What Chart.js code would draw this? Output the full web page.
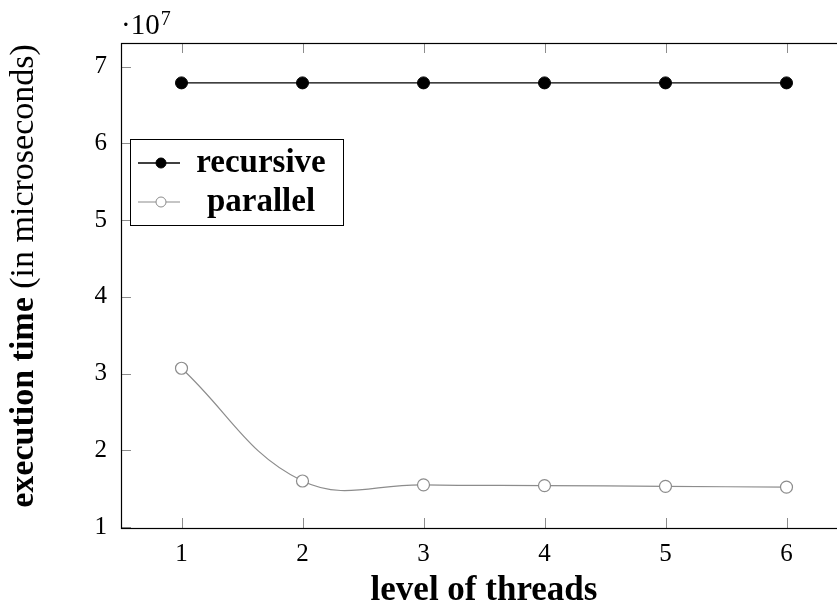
<!DOCTYPE html>
<html>
<head>
<meta charset="utf-8">
<script src="https://cdn.jsdelivr.net/npm/chart.js@4/dist/chart.umd.min.js"></script>
<style>
  html, body { margin: 0; padding: 0; background: #fff; overflow: hidden; }
  #chart { position: absolute; left: 0; top: 0; }
</style>
</head>
<body>
<canvas id="chart" width="847" height="608"></canvas>
<script>
  "use strict";

  // data, in units of 10^7 microseconds
  const threadLevels = [1, 2, 3, 4, 5, 6];
  const recursiveTimes = [6.79, 6.79, 6.79, 6.79, 6.79, 6.79];
  const parallelTimes = [3.07, 1.60, 1.55, 1.54, 1.53, 1.52];
  const yTickValues = [1, 2, 3, 4, 5, 6, 7];
  const seriesNames = ["recursive", "parallel"];

  const SERIF = "'Liberation Serif', 'DejaVu Serif', serif";
  const GREY = "#8c8c8c";

  function points(values) {
    return threadLevels.map((x, i) => ({ x, y: values[i] }));
  }

  // frame, inward ticks, exponent, y title and legend box (pgfplots look)
  const decorations = {
    id: "decorations",
    afterDatasetsDraw(chart) {
      const { ctx, chartArea: a, scales } = chart;
      ctx.save();

      // ticks pointing inward
      ctx.strokeStyle = GREY;
      ctx.lineWidth = 1;
      ctx.beginPath();
      scales.x.ticks.forEach((t) => {
        const px = Math.round(scales.x.getPixelForValue(t.value)) + 0.5;
        ctx.moveTo(px, a.bottom); ctx.lineTo(px, a.bottom - 10);
        ctx.moveTo(px, a.top); ctx.lineTo(px, a.top + 10);
      });
      scales.y.ticks.forEach((t) => {
        const py = Math.round(scales.y.getPixelForValue(t.value)) + 0.5;
        ctx.moveTo(a.left, py); ctx.lineTo(a.left + 10, py);
        ctx.moveTo(a.right, py); ctx.lineTo(a.right - 10, py);
      });
      ctx.stroke();

      // frame
      ctx.strokeStyle = "#000";
      ctx.lineWidth = 1.2;
      ctx.strokeRect(a.left + 0.5, a.top + 0.5, a.right - a.left, a.bottom - a.top);

      // exponent label
      ctx.fillStyle = "#000";
      ctx.textBaseline = "alphabetic";
      ctx.textAlign = "left";
      ctx.font = "29px " + SERIF;
      ctx.fillText("\u00b710", 121, 34);
      const ew = ctx.measureText("\u00b710").width;
      ctx.font = "20px " + SERIF;
      ctx.fillText("7", 121 + ew + 1, 25);

      // y axis title: bold part + normal part, rotated
      ctx.translate(24, 276);
      ctx.rotate(-Math.PI / 2);
      ctx.textBaseline = "middle";
      const boldPart = "execution time ";
      const normPart = "(in microseconds)";
      ctx.font = "bold 34px " + SERIF;
      const w1 = ctx.measureText(boldPart).width;
      ctx.font = "34px " + SERIF;
      const w2 = ctx.measureText(normPart).width;
      const sx = -(w1 + w2) / 2;
      ctx.font = "bold 34px " + SERIF;
      ctx.fillText(boldPart, sx, 0);
      ctx.font = "34px " + SERIF;
      ctx.fillText(normPart, sx + w1, 0);
      ctx.setTransform(1, 0, 0, 1, 0, 0);

      // legend box
      const lx = 130, ly = 139, lw = 213, lh = 86;
      ctx.fillStyle = "#fff";
      ctx.fillRect(lx, ly, lw, lh);
      ctx.strokeStyle = "#000";
      ctx.lineWidth = 1;
      ctx.strokeRect(lx + 0.5, ly + 0.5, lw, lh);
      chart.data.datasets.forEach((ds, i) => {
        const cy = ly + 24 + i * 39;
        ctx.strokeStyle = ds.borderColor;
        ctx.lineWidth = ds.borderWidth;
        ctx.beginPath();
        ctx.moveTo(lx + 8, cy); ctx.lineTo(lx + 50, cy);
        ctx.stroke();
        ctx.beginPath();
        ctx.arc(lx + 31, cy, 5, 0, Math.PI * 2);
        ctx.fillStyle = ds.pointBackgroundColor;
        ctx.fill();
        ctx.strokeStyle = ds.pointBorderColor;
        ctx.lineWidth = 1;
        ctx.stroke();
        ctx.fillStyle = "#000";
        ctx.font = "bold 33px " + SERIF;
        ctx.textAlign = "center";
        ctx.textBaseline = "middle";
        ctx.fillText(ds.label, lx + 131, cy);
      });
      ctx.restore();
    },
  };

  new Chart(document.getElementById("chart"), {
    type: "line",
    data: {
      datasets: [
        {
          label: seriesNames[0], data: points(recursiveTimes),
          borderColor: "#000", borderWidth: 1.3, tension: 0.4,
          pointRadius: 6, pointBackgroundColor: "#000", pointBorderColor: "#000", pointBorderWidth: 1,
        },
        {
          label: seriesNames[1], data: points(parallelTimes),
          borderColor: GREY, borderWidth: 1.2, tension: 0.4,
          pointRadius: 6, pointBackgroundColor: "#fff", pointBorderColor: GREY, pointBorderWidth: 1.2,
        },
      ],
    },
    options: {
      responsive: false, animation: false, devicePixelRatio: 1,
      layout: { autoPadding: false, padding: { top: 43, right: 0, left: 0, bottom: 0 } },
      plugins: { legend: { display: false }, tooltip: { enabled: false } },
      scales: {
        x: {
          type: "linear", min: 0.5, max: 6.5,
          afterBuildTicks: (s) => { s.ticks = threadLevels.map((v) => ({ value: v })); },
          afterFit: (s) => { s.height = 80; s.paddingLeft = 0; s.paddingRight = 0; },
          grid: { display: false, drawTicks: false }, border: { display: false },
          ticks: { color: "#000", padding: 11, font: { family: SERIF, size: 25 }, maxRotation: 0 },
          title: { display: true, text: "level of threads", color: "#000", padding: { top: 2, bottom: 0 }, font: { family: SERIF, size: 35, weight: "bold", lineHeight: 1 } },
        },
        y: {
          type: "linear", min: 0.987, max: 7.31,
          afterBuildTicks: (s) => { s.ticks = yTickValues.map((v) => ({ value: v })); },
          afterFit: (s) => { s.width = 121; s.paddingTop = 0; s.paddingBottom = 0; },
          grid: { display: false, drawTicks: false }, border: { display: false },
          ticks: { color: "#000", padding: 14, font: { family: SERIF, size: 25 } },
        },
      },
    },
    plugins: [decorations],
  });
</script>
</body>
</html>
